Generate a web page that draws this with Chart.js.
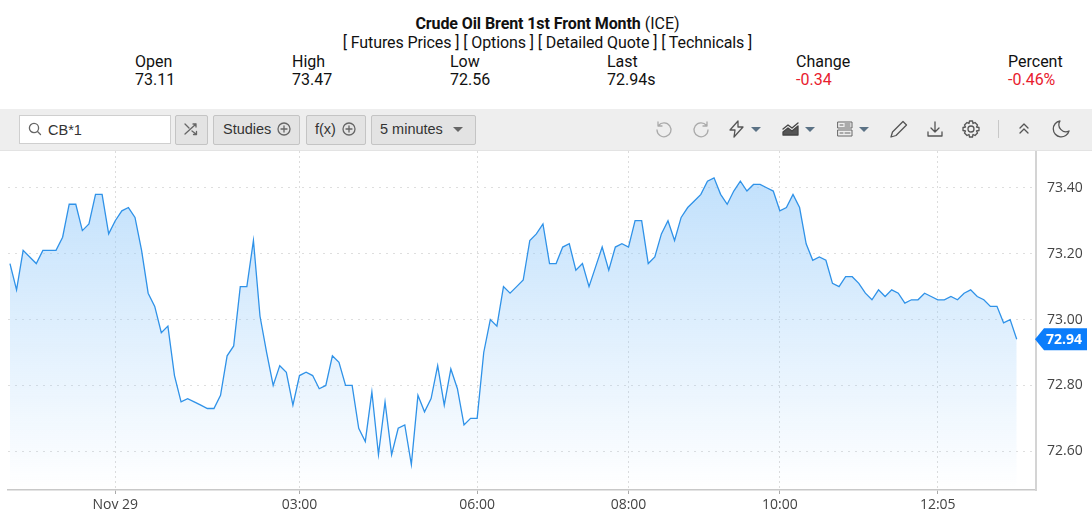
<!DOCTYPE html>
<html>
<head>
<meta charset="utf-8">
<script src="https://cdn.jsdelivr.net/npm/chart.js@4"></script>
<style>
html,body{margin:0;padding:0;background:#fff;width:1092px;height:515px;overflow:hidden;font-family:Roboto,sans-serif;color:#111}
.t{position:absolute;font-size:16px;line-height:18px;white-space:nowrap}
.c{left:0;width:1095px;text-align:center}
.red{color:#e8202e}
#bar{position:absolute;left:0;top:109px;width:1092px;height:41px;background:#eeeeee;border-bottom:1px solid #e3e3e3}
.btn{position:absolute;top:115px;height:28px;background:#e3e3e3;border:1px solid #c4c4c4;border-radius:2px;font-family:"Liberation Sans",sans-serif;font-size:14.5px;line-height:27px;color:#333;box-sizing:content-box;white-space:nowrap}
#box{position:absolute;left:19px;top:115px;width:150px;height:27px;background:#fff;border:1px solid #cfcfcf;font-family:"Liberation Sans",sans-serif;font-size:14.5px;line-height:28px;color:#333}
svg.i{position:absolute;fill:none;stroke:#666;stroke-width:1.3;stroke-linecap:round;stroke-linejoin:round}
.caret{position:absolute;top:127px;width:0;height:0;border-left:5px solid transparent;border-right:5px solid transparent;border-top:5px solid #5b7285}
#wrap{position:absolute;left:0;top:151px;width:1092px;height:364px}
</style>
</head>
<body>
<div class="t c" style="top:15px"><b style="font-weight:700;letter-spacing:-.09px">Crude Oil Brent 1st Front Month</b> (ICE)</div>
<div class="t c" style="top:34px;letter-spacing:-.1px">[ Futures Prices ] [ Options ] [ Detailed Quote ] [ Technicals ]</div>
<div class="t" style="left:135px;top:53px">Open</div><div class="t" style="left:135px;top:71px">73.11</div>
<div class="t" style="left:292px;top:53px">High</div><div class="t" style="left:292px;top:71px">73.47</div>
<div class="t" style="left:450px;top:53px">Low</div><div class="t" style="left:450px;top:71px">72.56</div>
<div class="t" style="left:607px;top:53px">Last</div><div class="t" style="left:607px;top:71px">72.94s</div>
<div class="t" style="left:796px;top:53px">Change</div><div class="t red" style="left:796px;top:71px">-0.34</div>
<div class="t" style="left:1008px;top:53px">Percent</div><div class="t red" style="left:1008px;top:71px">-0.46%</div>

<div id="bar"></div>
<div id="box"><span style="position:absolute;left:28px">CB*1</span></div>
<svg class="i" style="left:27px;top:121px" width="16" height="16" viewBox="0 0 16 16"><circle cx="7" cy="7" r="4.6"/><path d="M10.5 10.5L13.5 13.5"/></svg>
<div class="btn" style="left:175px;width:31px"></div>
<svg class="i" style="left:183px;top:121px" width="16" height="16" viewBox="0 0 16 16"><path d="M2 3l4 4M9 10l4 3M2 13L13 3M10 3h3v3M10.500 13.500h3v-3"/></svg>
<div class="btn" style="left:213px;width:85px"><span style="position:absolute;left:9px">Studies</span></div>
<svg class="i" style="left:276px;top:121px" width="16" height="16" viewBox="0 0 16 16"><circle cx="8" cy="8" r="6"/><path d="M8 5v6M5 8h6"/></svg>
<div class="btn" style="left:306px;width:58px"><span style="position:absolute;left:8px">f(x)</span></div>
<svg class="i" style="left:341px;top:121px" width="16" height="16" viewBox="0 0 16 16"><circle cx="8" cy="8" r="6"/><path d="M8 5v6M5 8h6"/></svg>
<div class="btn" style="left:371px;width:103px"><span style="position:absolute;left:8px">5 minutes</span></div>
<div class="caret" style="left:453px;border-top-color:#666"></div>

<svg class="i" style="left:654px;top:119px;stroke:#aaa" width="20" height="20" viewBox="0 0 20 20"><path d="M4.500 6.500A7 7 0 1 1 3 11M4 3v4h4"/></svg>
<svg class="i" style="left:691px;top:119px;stroke:#aaa" width="20" height="20" viewBox="0 0 20 20"><path d="M15.500 6.500A7 7 0 1 0 17 11M16 3v4h-4"/></svg>
<svg class="i" style="left:727px;top:119px;stroke:#555" width="20" height="20" viewBox="0 0 20 20"><path d="M11 2L3 11h5l-1 7 9-10h-5z"/></svg>
<div class="caret" style="left:751px"></div>
<svg class="i" style="left:781px;top:119px;stroke:#444" width="20" height="20" viewBox="0 0 20 20"><path d="M2 10l5-4 4 3 6-5" /><path d="M2 16v-3l5-4 4 3 6-5v9z" fill="#555"/></svg>
<div class="caret" style="left:805px"></div>
<svg class="i" style="left:835px;top:119px;stroke:#666;stroke-width:1" width="20" height="20" viewBox="0 0 20 20"><rect x="3" y="3" width="14" height="6"/><rect x="3" y="11" width="14" height="6"/><path d="M5 6h3M10 5h5M10 7h5M5 14h3M10 14h5"/></svg>
<div class="caret" style="left:859px"></div>
<svg class="i" style="left:889px;top:119px;stroke:#555" width="20" height="20" viewBox="0 0 20 20"><path d="M2 18l1.500-5L14 2.500l3.500 3.500L7 16.500z"/></svg>
<svg class="i" style="left:925px;top:119px;stroke:#555" width="20" height="20" viewBox="0 0 20 20"><path d="M10 3v10M6 9l4 4 4-4M3 13v4h14v-4"/></svg>
<svg class="i" style="left:961px;top:119px;stroke:#555" width="20" height="20" viewBox="0 0 20 20"><circle cx="10" cy="10" r="3"/><path d="M8.500 2h3l.5 2.500 2-1 2.500 2.500-1 2 2.500.5v3l-2.500.5 1 2-2.500 2.500-2-1-.5 2.500h-3l-.5-2.500-2 1-2.500-2.500 1-2L2 11.500v-3l2.500-.5-1-2L6 3.500l2 1z"/></svg>
<div style="position:absolute;left:998px;top:120px;width:1px;height:18px;background:#c8c8c8"></div>
<svg class="i" style="left:1015px;top:120px;stroke:#555" width="18" height="18" viewBox="0 0 18 18"><path d="M5 8l4-4 4 4M5 13l4-4 4 4"/></svg>
<svg class="i" style="left:1051px;top:119px;stroke:#555" width="20" height="20" viewBox="0 0 20 20"><path d="M9 2a8 8 0 1 0 9 10 7 7 0 0 1-9-10z"/></svg>

<div id="wrap"><canvas id="chart" width="1092" height="364"></canvas></div>

<script>
const prices = [
73.17,73.09,73.21,73.19,73.17,73.21,73.21,73.21,73.25,73.35,
73.35,73.27,73.29,73.38,73.38,73.26,73.30,73.33,73.34,73.31,
73.21,73.08,73.04,72.96,72.98,72.83,72.75,72.76,72.75,72.74,
72.73,72.73,72.77,72.89,72.92,73.10,73.10,73.24,73.01,72.90,
72.80,72.86,72.84,72.74,72.83,72.84,72.83,72.79,72.80,72.89,
72.87,72.80,72.80,72.67,72.63,72.78,72.59,72.75,72.59,72.67,
72.68,72.56,72.77,72.72,72.76,72.86,72.74,72.85,72.79,72.68,
72.70,72.70,72.90,73.00,72.98,73.10,73.08,73.10,73.12,73.24,
73.26,73.29,73.17,73.17,73.22,73.23,73.15,73.17,73.10,73.16,
73.22,73.15,73.22,73.23,73.22,73.30,73.30,73.17,73.19,73.26,
73.30,73.24,73.31,73.34,73.36,73.38,73.42,73.43,73.38,73.35,
73.39,73.42,73.39,73.41,73.41,73.40,73.39,73.33,73.34,73.38,
73.34,73.23,73.18,73.19,73.18,73.11,73.10,73.13,73.13,73.11,
73.08,73.06,73.09,73.07,73.09,73.08,73.05,73.06,73.06,73.08,
73.07,73.06,73.06,73.07,73.06,73.08,73.09,73.07,73.06,73.04,
73.04,72.99,73.00,72.94];
const timeLabels = ["Nov 29","03:00","06:00","08:00","10:00","12:05"];
const timeBars = [16,44,71,94,117,141];
const priceTicks = [72.6,72.8,73.0,73.2,73.4];
const lastLabel = "72.94";

const lastTag = {
  id:'lastTag',
  afterDraw(c){
    const g=c.ctx, y=c.scales.y.getPixelForValue(prices[prices.length-1]), a=c.chartArea.right;
    g.save();
    g.fillStyle='#0b7dfb';
    g.beginPath();
    g.moveTo(a-1,y);
    g.lineTo(a+8,y-11);
    g.lineTo(1087,y-11);
    g.lineTo(1087,y+11);
    g.lineTo(a+8,y+11);
    g.closePath();
    g.fill();
    g.fillStyle='#fff';
    g.font='700 14px "Open Sans", sans-serif';
    g.textAlign='center';
    g.textBaseline='middle';
    g.fillText(lastLabel,1064,y+0.5);
    g.restore();
  }
};

const ctx=document.getElementById('chart').getContext('2d');
const grad=ctx.createLinearGradient(0,20,0,338);
grad.addColorStop(0,'rgba(150,203,250,0.6)');
grad.addColorStop(1,'rgba(150,203,250,0)');

new Chart(ctx,{
  type:'line',
  data:{datasets:[{
    data:prices.map((p,i)=>({x:i,y:p})),
    borderColor:'#2f92e8',borderWidth:1.3,pointRadius:0,tension:0,
    fill:'start',backgroundColor:grad
  }]},
  options:{
    responsive:false,animation:false,
    layout:{padding:{left:8,right:0,top:0,bottom:0}},
    plugins:{legend:{display:false},tooltip:{enabled:false}},
    scales:{
      x:{type:'linear',min:-0.3,max:155.93,
        afterBuildTicks(s){s.ticks=timeBars.map(v=>({value:v}));},
        afterFit(s){s.height=25;s.paddingLeft=0;s.paddingRight=0;},
        border:{display:true,color:'#c8c8c8',width:1.5,dash:[2,3]},
        grid:{color:'#dcdcdc',lineWidth:1,tickLength:4,tickColor:'#aaa',drawTicks:true},
        ticks:{autoSkip:false,maxRotation:0,padding:3,color:'#444',font:{family:'"Open Sans"',size:14},
          callback:v=>timeLabels[timeBars.indexOf(v)]}
      },
      y:{type:'linear',position:'right',min:72.4826,max:73.5116,
        afterBuildTicks(s){s.ticks=priceTicks.map(v=>({value:v}));},
        afterFit(s){s.width=56;s.paddingTop=0;s.paddingBottom=0;},
        border:{display:true,color:'#d4d4d4',width:2,dash:[2,5]},
        grid:{color:'#dedede',lineWidth:1,drawTicks:false},
        ticks:{autoSkip:false,padding:11,color:'#444',font:{family:'"Open Sans"',size:14},
          callback:v=>v.toFixed(2)}
      }
    }
  },
  plugins:[lastTag]
});
</script>
</body>
</html>
